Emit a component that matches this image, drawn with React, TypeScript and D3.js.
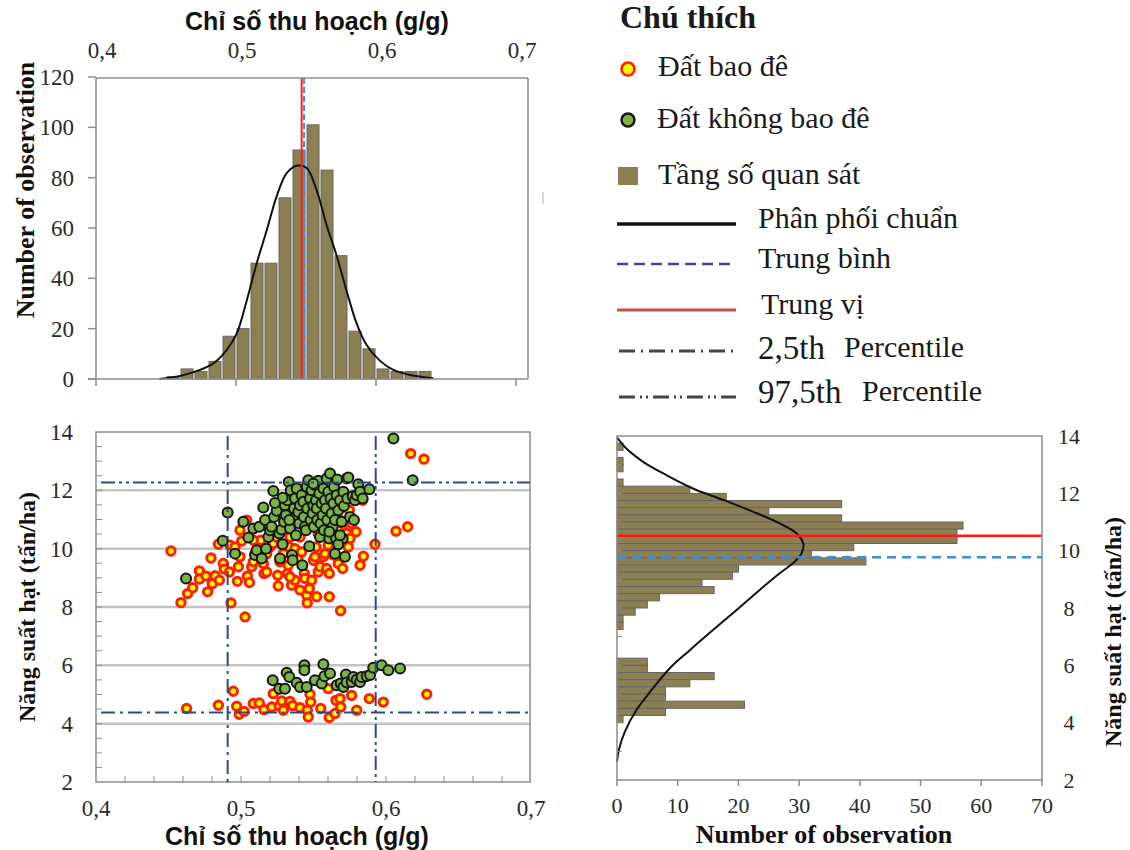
import React from "react";
import * as d3 from "d3";

const SERIF = "'Liberation Serif', 'Times New Roman', serif";
const SANS = "'Liberation Sans', Arial, sans-serif";
const BAR_FILL = "#8c8052";
const BAR_STROKE = "#666666";
const FRAME = "#8c8c8c";
const NAVY = "#2c4a8a";
const TEXT = "#2a2a2a";

// top histogram: harvest index (bin width 0.01)
const HI_BIN_W = 0.01;
const HI_BIN_START = [0.45, 0.46, 0.47, 0.48, 0.49, 0.5, 0.51, 0.52, 0.53, 0.54, 0.55, 0.56, 0.57, 0.58, 0.59, 0.6, 0.61, 0.62, 0.63];
const HI_COUNT = [1, 4, 3, 7, 17, 20, 46, 46, 72, 91, 101, 83, 49, 19, 12, 4, 3, 3, 3];
const HI_CURVE_X = [0.4452, 0.46, 0.4743, 0.4838, 0.4933, 0.5005, 0.5076, 0.5148, 0.5219, 0.529, 0.5362, 0.544, 0.5505, 0.5576, 0.5648, 0.5719, 0.579, 0.5862, 0.5933, 0.6029, 0.6124, 0.6243, 0.641];
const HI_CURVE_N = [0, 1.2, 3.6, 6.2, 11.5, 18, 31, 46, 59, 72.5, 81.8, 84.8, 83.8, 75, 61, 49, 35, 22, 13.5, 7.2, 3.6, 1.6, 0.3];
const HI_MEDIAN = 0.5469;
const HI_MEAN = 0.5486;
const HI_P025 = 0.4908;
const HI_P975 = 0.5929;
const HI_TICKS = [0.4, 0.5, 0.6, 0.7];
const COUNT_TICKS = [0, 20, 40, 60, 80, 100, 120];

// scatter: [harvest index, grain yield]
const DIKED = [
  [0.4517, 9.92], [0.4586, 8.15], [0.4632, 8.46], [0.4667, 8.66], [0.4713, 9.24], [0.4713, 8.96], [0.4759, 9.06], [0.477, 8.52],
  [0.4802, 8.8], [0.4821, 9.07], [0.4793, 9.68], [0.4851, 8.92], [0.4844, 10.15], [0.4878, 9.49], [0.4885, 9.3], [0.492, 9.2],
  [0.4931, 8.14], [0.5028, 7.66], [0.4975, 8.88], [0.4982, 9.38], [0.4993, 9.72], [0.5005, 10.26], [0.5039, 10.98], [0.5044, 9.06],
  [0.5058, 8.84], [0.5074, 9.38], [0.5085, 9.55], [0.5097, 9.83], [0.512, 10.06], [0.5136, 10.29], [0.5154, 9.49], [0.5159, 9.15],
  [0.5177, 9.83], [0.52, 10.06], [0.5223, 10.18], [0.5253, 9.09], [0.5257, 8.72], [0.5269, 9.55], [0.5292, 9.83], [0.532, 9.15],
  [0.5326, 9.43], [0.5333, 10.06], [0.5349, 8.75], [0.5372, 8.92], [0.5372, 10.0], [0.5391, 9.66], [0.5407, 8.58], [0.5418, 9.89],
  [0.5437, 9.15], [0.5441, 8.98], [0.5453, 8.4], [0.5457, 8.14], [0.5471, 8.63], [0.5487, 8.92], [0.5499, 9.6], [0.551, 9.72],
  [0.5517, 10.06], [0.5522, 8.35], [0.5533, 9.2], [0.5545, 9.38], [0.5568, 9.72], [0.5579, 9.83], [0.5591, 9.32], [0.5609, 9.15],
  [0.5609, 8.35], [0.5648, 10.06], [0.5671, 9.49], [0.5687, 7.87], [0.5694, 10.75], [0.5701, 9.32], [0.5729, 10.52], [0.5752, 10.35],
  [0.5747, 11.32], [0.5763, 10.86], [0.5793, 10.58], [0.5821, 9.43], [0.5839, 11.66], [0.5844, 9.74], [0.5924, 10.15], [0.6069, 10.6],
  [0.6149, 10.75], [0.617, 13.26], [0.6262, 13.07], [0.5683, 10.98], [0.5671, 10.63], [0.5533, 10.52], [0.5407, 10.4], [0.5338, 10.4],
  [0.4993, 10.63], [0.4924, 10.12], [0.4959, 10.06], [0.5085, 10.29], [0.5246, 10.4], [0.5602, 10.12], [0.574, 10.06], [0.5177, 9.2],
  [0.5338, 9.03], [0.5637, 9.78],
  [0.4625, 4.52], [0.4844, 4.63], [0.4947, 5.11], [0.497, 4.6], [0.4988, 4.32], [0.5021, 4.42], [0.5085, 4.69], [0.5126, 4.71],
  [0.5159, 4.48], [0.5212, 4.57], [0.5223, 5.03], [0.5264, 4.6], [0.5281, 4.78], [0.5292, 4.46], [0.5338, 4.76], [0.5357, 4.62],
  [0.5407, 4.55], [0.5457, 4.46], [0.5464, 4.23], [0.5476, 5.01], [0.5481, 4.74], [0.555, 4.52], [0.5602, 5.2], [0.5609, 4.21],
  [0.5648, 4.35], [0.5655, 4.8], [0.5683, 4.86], [0.5688, 4.57], [0.5763, 4.97], [0.5798, 4.46], [0.5885, 4.86], [0.5981, 4.74],
  [0.6281, 5.01],
];
const UNDIKED = [
  [0.4621, 8.98], [0.4874, 10.27], [0.4908, 11.24], [0.4959, 9.83], [0.5016, 10.92], [0.5051, 10.38], [0.5085, 10.69], [0.5097, 9.78],
  [0.5108, 9.95], [0.5126, 10.75], [0.5143, 9.66], [0.5154, 11.41], [0.5166, 10.98], [0.5173, 10.0], [0.5189, 10.4], [0.52, 10.63],
  [0.5211, 10.75], [0.5223, 11.98], [0.5228, 11.09], [0.5246, 11.3], [0.5264, 10.52], [0.5269, 9.66], [0.528, 10.66], [0.5287, 10.15],
  [0.5297, 10.92], [0.5303, 11.49], [0.531, 11.15], [0.532, 11.66], [0.5329, 12.29], [0.5338, 10.69], [0.5343, 12.0], [0.5352, 9.78],
  [0.5356, 9.6], [0.5361, 11.03], [0.5366, 11.38], [0.5372, 11.72], [0.5379, 10.46], [0.5384, 12.06], [0.5395, 11.26], [0.5402, 10.86],
  [0.5407, 11.49], [0.5418, 11.83], [0.5423, 9.43], [0.543, 11.61], [0.5434, 11.09], [0.5441, 10.75], [0.5448, 10.63], [0.5453, 12.12],
  [0.5457, 11.38], [0.5464, 12.35], [0.5471, 10.08], [0.5476, 11.72], [0.548, 10.98], [0.5487, 12.0], [0.5494, 11.21], [0.5499, 11.49],
  [0.5503, 10.75], [0.551, 12.18], [0.5517, 11.66], [0.5522, 11.38], [0.5526, 10.98], [0.5533, 12.33], [0.554, 11.89], [0.5545, 10.4],
  [0.5549, 10.86], [0.5556, 11.55], [0.5563, 11.15], [0.5568, 12.06], [0.5572, 10.63], [0.5579, 11.66], [0.5586, 11.38], [0.5591, 12.41],
  [0.5595, 10.98], [0.5602, 11.95], [0.5609, 10.35], [0.5614, 12.58], [0.5618, 11.72], [0.5625, 11.21], [0.5632, 10.75], [0.5637, 11.55],
  [0.5641, 12.12], [0.5648, 10.98], [0.5655, 10.35], [0.566, 11.83], [0.5664, 12.37], [0.5671, 11.32], [0.5683, 11.66], [0.5694, 10.92],
  [0.5701, 10.35], [0.5706, 11.95], [0.571, 11.46], [0.5717, 9.72], [0.5729, 12.41], [0.5733, 11.72], [0.574, 12.44], [0.5752, 11.09],
  [0.577, 11.8], [0.5779, 10.98], [0.5786, 11.66], [0.5798, 11.83], [0.5809, 12.21], [0.5821, 11.95], [0.5839, 11.72], [0.5885, 12.04],
  [0.6051, 13.78], [0.6184, 12.35], [0.5648, 9.83], [0.5671, 10.15], [0.5683, 10.46], [0.5609, 10.58], [0.5287, 11.75], [0.5234, 11.57],
  [0.5499, 12.23], [0.5333, 10.98],
  [0.5219, 5.49], [0.5264, 5.2], [0.5303, 5.2], [0.5315, 5.75], [0.5333, 5.6], [0.5384, 5.4], [0.5407, 5.26], [0.5437, 6.0],
  [0.5437, 5.83], [0.5453, 5.26], [0.551, 5.49], [0.5557, 5.38], [0.5568, 6.04], [0.5575, 5.63], [0.5614, 5.72], [0.566, 5.32],
  [0.5688, 5.38], [0.5706, 5.26], [0.5724, 5.69], [0.5729, 5.41], [0.5763, 5.43], [0.5775, 5.6], [0.5798, 5.51], [0.5821, 5.43],
  [0.5832, 5.6], [0.5867, 5.63], [0.589, 5.67], [0.5912, 5.92], [0.597, 6.0], [0.6016, 5.83], [0.6097, 5.89],
];
const Y_P025 = 4.38;
const Y_P975 = 12.27;
const YIELD_TICKS = [2, 4, 6, 8, 10, 12, 14];
const YIELD_GRID = [4, 6, 8, 10, 12];

// right histogram: grain yield (bin width 0.25)
const Y_BIN_W = 0.25;
const Y_BIN_START = [13.5, 13.0, 12.75, 12.25, 12.0, 11.75, 11.5, 11.25, 11.0, 10.75, 10.5, 10.25, 10.0, 9.75, 9.5, 9.25, 9.0, 8.75, 8.5, 8.25, 8.0, 7.75, 7.5, 7.25, 6.0, 5.75, 5.5, 5.25, 5.0, 4.75, 4.5, 4.25, 4.0];
const Y_COUNT = [1, 1, 1, 1, 12, 18, 37, 25, 37, 57, 56, 56, 39, 32, 41, 20, 19, 14, 16, 7, 5, 3, 1, 1, 5, 5, 16, 12, 8, 8, 21, 8, 1];
const Y_CURVE_Y = [13.95, 13.57, 13.1, 12.64, 12.17, 11.77, 11.36, 10.95, 10.6, 10.23, 9.91, 9.62, 9.21, 8.63, 7.93, 7.23, 6.53, 5.9, 5.14, 4.44, 3.69, 3.05, 2.64];
const Y_CURVE_N = [0, 1.5, 4.3, 8.1, 12.5, 17.5, 22.4, 26.8, 29.6, 30.7, 30.4, 29.3, 26.8, 23.5, 19.7, 15.8, 12.0, 8.7, 5.7, 3.2, 1.3, 0.3, 0];
const Y_MEDIAN = 10.52;
const Y_MEAN = 9.77;
const OBS_TICKS = [0, 10, 20, 30, 40, 50, 60, 70];

const fmt = (v: number) => String(v).replace(".", ",");

const DASH_DOT = "14 5 3 5";
const DASH_DOT_DOT = "14 4 3 4 3 4";

export default function App() {
  // top histogram
  const xTop = d3.scaleLinear().domain([0.4, 0.7]).range([96, 516]);
  const yTop = d3.scaleLinear().domain([0, 120]).range([379, 77]);
  const topLine = d3
    .line<number>()
    .x((_, i) => xTop(HI_CURVE_X[i]))
    .y((d) => yTop(d))
    .curve(d3.curveCatmullRom);

  // scatter
  const xSc = d3.scaleLinear().domain([0.4, 0.7]).range([96, 531]);
  const ySc = d3.scaleLinear().domain([2, 14]).range([782, 432]);

  // right histogram
  const xR = d3.scaleLinear().domain([0, 70]).range([617, 1042]);
  const yR = d3.scaleLinear().domain([2, 14]).range([780, 436]);
  const rightLine = d3
    .line<number>()
    .x((d) => xR(d))
    .y((_, i) => yR(Y_CURVE_Y[i]))
    .curve(d3.curveCatmullRom);

  const scMinorY = d3.range(2.5, 14, 0.5);
  const scMinorX = d3.range(0.42, 0.7, 0.02);

  return (
    <svg
      width={1130}
      height={850}
      style={{ position: "absolute", left: 0, top: 0, background: "#fff" }}
    >
      {/* ---------- top histogram ---------- */}
      <text x={317} y={30} textAnchor="middle" fontFamily={SANS} fontWeight="bold" fontSize={25} fill="#111">
        Chỉ số thu hoạch (g/g)
      </text>
      {HI_TICKS.map((t) => (
        <text key={`tt${t}`} x={xTop(t) + 6} y={58} textAnchor="middle" fontFamily={SERIF} fontSize={23} fill={TEXT}>
          {fmt(t)}
        </text>
      ))}
      {COUNT_TICKS.map((t) => (
        <g key={`ct${t}`}>
          <line x1={88} x2={96} y1={yTop(t)} y2={yTop(t)} stroke={FRAME} strokeWidth={1.5} />
          <text x={74} y={yTop(t)} dy="0.35em" textAnchor="end" fontFamily={SERIF} fontSize={23} fill={TEXT}>
            {t}
          </text>
        </g>
      ))}
      <text
        transform={`translate(25,190) rotate(-90)`}
        textAnchor="middle"
        dy="0.35em"
        fontFamily={SERIF}
        fontWeight="bold"
        fontSize={26}
        fill="#111"
      >
        Number of observation
      </text>
      {HI_BIN_START.map((b, i) => (
        <rect
          key={`hb${i}`}
          x={xTop(b) + 1}
          width={xTop(b + HI_BIN_W) - xTop(b) - 2}
          y={yTop(HI_COUNT[i])}
          height={yTop(0) - yTop(HI_COUNT[i])}
          fill={BAR_FILL}
          stroke={BAR_STROKE}
          strokeWidth={1}
        />
      ))}
      <path d={topLine(HI_CURVE_N) || ""} fill="none" stroke="#111" strokeWidth={2} />
      <line x1={xTop(HI_MEDIAN)} x2={xTop(HI_MEDIAN)} y1={78} y2={379} stroke="#ff2020" strokeWidth={2} />
      <line x1={xTop(HI_MEAN)} x2={xTop(HI_MEAN)} y1={78} y2={379} stroke="#3d8fd6" strokeWidth={2} strokeDasharray="6 3" />
      <line x1={96} x2={96} y1={78} y2={379} stroke={FRAME} strokeWidth={1.5} />
      <line x1={96} x2={528} y1={78} y2={78} stroke={FRAME} strokeWidth={1.5} />
      <line x1={528} x2={528} y1={78} y2={379} stroke={FRAME} strokeWidth={1.5} />
      <line x1={88} x2={528} y1={379} y2={379} stroke={FRAME} strokeWidth={1.5} />
      {HI_TICKS.map((t) => (
        <line key={`htk${t}`} x1={xTop(t)} x2={xTop(t)} y1={379} y2={386} stroke={FRAME} strokeWidth={1.5} />
      ))}
      <line x1={543} x2={543} y1={192} y2={204} stroke="#9ab8d8" strokeWidth={1} />

      {/* ---------- scatter ---------- */}
      {YIELD_GRID.map((g) => (
        <line key={`g${g}`} x1={96} x2={530} y1={ySc(g)} y2={ySc(g)} stroke="#c4c4c4" strokeWidth={2.5} />
      ))}
      <rect x={96} y={432} width={434} height={350} fill="none" stroke={FRAME} strokeWidth={1.5} />
      {scMinorY.map((v) => (
        <line key={`my${v}`} x1={96} x2={102} y1={ySc(v)} y2={ySc(v)} stroke={FRAME} strokeWidth={1} />
      ))}
      {scMinorX.map((v) => (
        <line key={`mx${v}`} x1={xSc(v)} x2={xSc(v)} y1={782} y2={776} stroke={FRAME} strokeWidth={1} />
      ))}
      {YIELD_TICKS.map((t) => (
        <text key={`sy${t}`} x={73} y={ySc(t)} dy="0.35em" textAnchor="end" fontFamily={SERIF} fontSize={23} fill={TEXT}>
          {t}
        </text>
      ))}
      {HI_TICKS.map((t) => (
        <text key={`sx${t}`} x={xSc(t)} y={816} textAnchor="middle" fontFamily={SERIF} fontSize={23} fill={TEXT}>
          {fmt(t)}
        </text>
      ))}
      <text x={297} y={845} textAnchor="middle" fontFamily={SANS} fontWeight="bold" fontSize={25} fill="#111">
        Chỉ số thu hoạch (g/g)
      </text>
      <text
        transform={`translate(27,607) rotate(-90)`}
        textAnchor="middle"
        dy="0.35em"
        fontFamily={SERIF}
        fontWeight="bold"
        fontSize={24}
        fill="#111"
      >
        Năng suất hạt (tấn/ha)
      </text>
      {DIKED.map((d, i) => (
        <circle key={`r${i}`} cx={xSc(d[0])} cy={ySc(d[1])} r={4.2} fill="#ffff00" stroke="#ff2000" strokeWidth={3} />
      ))}
      {UNDIKED.map((d, i) => (
        <circle key={`gp${i}`} cx={xSc(d[0])} cy={ySc(d[1])} r={5} fill="#79b445" stroke="#151515" strokeWidth={2} />
      ))}
      <line x1={xSc(HI_P025)} x2={xSc(HI_P025)} y1={436} y2={782} stroke={NAVY} strokeWidth={2} strokeDasharray={DASH_DOT} />
      <line x1={xSc(HI_P975)} x2={xSc(HI_P975)} y1={436} y2={782} stroke={NAVY} strokeWidth={2} strokeDasharray={DASH_DOT_DOT} />
      <line x1={101} x2={530} y1={ySc(Y_P975)} y2={ySc(Y_P975)} stroke={NAVY} strokeWidth={2} strokeDasharray={DASH_DOT_DOT} />
      <line x1={101} x2={530} y1={ySc(Y_P025)} y2={ySc(Y_P025)} stroke={NAVY} strokeWidth={2} strokeDasharray={DASH_DOT} />

      {/* ---------- right histogram ---------- */}
      {Y_BIN_START.map((b, i) => (
        <rect
          key={`yb${i}`}
          x={xR(0)}
          width={xR(Y_COUNT[i]) - xR(0)}
          y={yR(b + Y_BIN_W)}
          height={yR(b) - yR(b + Y_BIN_W)}
          fill={BAR_FILL}
          stroke={BAR_STROKE}
          strokeWidth={1}
        />
      ))}
      <path d={rightLine(Y_CURVE_N) || ""} fill="none" stroke="#111" strokeWidth={2} />
      <line x1={xR(0)} x2={xR(70)} y1={yR(Y_MEDIAN)} y2={yR(Y_MEDIAN)} stroke="#ff1a1a" strokeWidth={2.5} />
      <line x1={xR(0)} x2={xR(70)} y1={yR(Y_MEAN)} y2={yR(Y_MEAN)} stroke="#3b8fd8" strokeWidth={2.5} strokeDasharray="9 6" />
      <rect x={617} y={436} width={425} height={344} fill="none" stroke={FRAME} strokeWidth={1.5} />
      {d3.range(3, 14, 1).map((v) => (
        <line key={`rl${v}`} x1={617} x2={622} y1={yR(v)} y2={yR(v)} stroke={FRAME} strokeWidth={1} />
      ))}
      {OBS_TICKS.map((t) => (
        <g key={`ot${t}`}>
          <line x1={xR(t)} x2={xR(t)} y1={780} y2={786} stroke={FRAME} strokeWidth={1.5} />
          <text x={xR(t)} y={813} textAnchor="middle" fontFamily={SERIF} fontSize={22} fill={TEXT}>
            {t}
          </text>
        </g>
      ))}
      {YIELD_TICKS.map((t) => (
        <text key={`ry${t}`} x={1069} y={yR(t)} dy="0.35em" textAnchor="middle" fontFamily={SERIF} fontSize={22} fill={TEXT}>
          {t}
        </text>
      ))}
      <text x={824} y={843} textAnchor="middle" fontFamily={SERIF} fontWeight="bold" fontSize={26} fill="#111">
        Number of observation
      </text>
      <text
        transform={`translate(1113,632) rotate(-90)`}
        textAnchor="middle"
        dy="0.35em"
        fontFamily={SERIF}
        fontWeight="bold"
        fontSize={24}
        fill="#111"
      >
        Năng suất hạt (tấn/ha)
      </text>

      {/* ---------- legend ---------- */}
      <g fontFamily={SERIF} fill="#1a1a1a">
        <text x={620} y={28} fontWeight="bold" fontSize={32}>Chú thích</text>
        <circle cx={628} cy={69} r={6.5} fill="#ffff00" stroke="#ff2000" strokeWidth={2.6} />
        <text x={658} y={76} fontSize={30}>Đất bao đê</text>
        <circle cx={628} cy={120} r={6.5} fill="#79b445" stroke="#151515" strokeWidth={2.4} />
        <text x={657} y={128} fontSize={30}>Đất không bao đê</text>
        <rect x={618} y={167} width={20} height={18} fill={BAR_FILL} />
        <text x={658} y={184} fontSize={30}>Tầng số quan sát</text>
        <line x1={617} x2={736} y1={224} y2={224} stroke="#111" strokeWidth={3.5} />
        <text x={758} y={228} fontSize={30}>Phân phối chuẩn</text>
        <line x1={617} x2={736} y1={264} y2={264} stroke="#4040b0" strokeWidth={2.5} strokeDasharray="11 6" />
        <text x={758} y={268} fontSize={30}>Trung bình</text>
        <line x1={617} x2={736} y1={310} y2={310} stroke="#c0504d" strokeWidth={3} />
        <text x={761} y={314} fontSize={30}>Trung vị</text>
        <line x1={619} x2={734} y1={351} y2={351} stroke="#454545" strokeWidth={3} strokeDasharray="16 6 2 6" />
        <text x={758} y={359} fontSize={33}>2,5th</text>
        <text x={844} y={357} fontSize={30}>Percentile</text>
        <line x1={619} x2={736} y1={397} y2={397} stroke="#454545" strokeWidth={3} strokeDasharray="16 5 2 4 2 5" />
        <text x={758} y={403} fontSize={33}>97,5th</text>
        <text x={862} y={401} fontSize={30}>Percentile</text>
      </g>
    </svg>
  );
}
